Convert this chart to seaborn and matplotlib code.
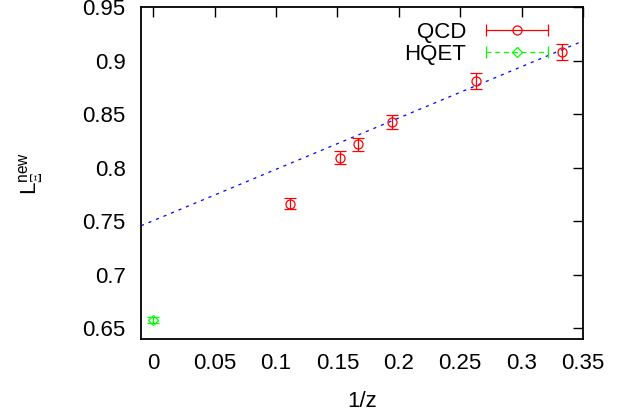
import matplotlib
matplotlib.use('Agg')
import matplotlib.pyplot as plt
import seaborn as sns
from matplotlib.lines import Line2D
from matplotlib.legend_handler import HandlerLine2D
from matplotlib.ticker import FixedLocator, FuncFormatter

# dados
qcd_x = [0.1111, 0.1518, 0.1667, 0.1944, 0.2632, 0.3333]
qcd_y = [0.7665, 0.8093, 0.8217, 0.8422, 0.8808, 0.9083]
qcd_err = [0.0055, 0.0058, 0.0060, 0.0065, 0.0072, 0.0075]

hqet_x = [0.0]
hqet_y = [0.6575]
hqet_err = [0.0030]

fit_x = [-0.01, 0.35]
fit_y = [0.7457, 0.9183]

xticks = [0, 0.05, 0.1, 0.15, 0.2, 0.25, 0.3, 0.35]
yticks = [0.65, 0.7, 0.75, 0.8, 0.85, 0.9, 0.95]

sns.set_style('white')
plt.rcParams['font.family'] = ['Liberation Sans', 'DejaVu Sans']
plt.rcParams['text.color'] = 'black'
plt.rcParams['axes.labelcolor'] = 'black'
plt.rcParams['mathtext.fontset'] = 'custom'
plt.rcParams['mathtext.rm'] = 'Liberation Sans'
plt.rcParams['mathtext.it'] = 'Liberation Sans'
plt.rcParams['mathtext.cal'] = 'Liberation Serif'

fig = plt.figure(figsize=(6.22, 4.19), dpi=100)
ax = fig.add_axes([141 / 622, 1 - 339 / 419, 442 / 622, 332 / 419])

# reta de ajuste
sns.lineplot(x=fit_x, y=fit_y, ax=ax, color='#0000ff', linewidth=0.9,
             linestyle=(0, (2.5, 4)), legend=False)

ax.errorbar(qcd_x, qcd_y, yerr=qcd_err, fmt='o', mfc='none', mec='#ff0000',
            ecolor='#ff0000', ms=6.5, mew=0.9, elinewidth=0.9, capsize=4,
            capthick=0.9, zorder=3)
ax.errorbar(hqet_x, hqet_y, yerr=hqet_err, fmt='D', mfc='none', mec='#00ff00',
            ecolor='#00ff00', ms=5, mew=0.9, elinewidth=0.9, capsize=4,
            capthick=0.9, zorder=3)

ax.set_xlim(-0.01, 0.35)
ax.set_ylim(0.64, 0.95)
ax.xaxis.set_major_locator(FixedLocator(xticks))
ax.yaxis.set_major_locator(FixedLocator(yticks))
fmt = FuncFormatter(lambda v, p: '%g' % v)
ax.xaxis.set_major_formatter(fmt)
ax.yaxis.set_major_formatter(fmt)
ax.tick_params(direction='in', length=7, width=1.0, top=True, right=True,
               labelsize=16, colors='black')
ax.tick_params(axis='y', pad=11)
ax.tick_params(axis='x', pad=10)
for s in ax.spines.values():
    s.set_color('black')
    s.set_linewidth(1.3)

ax.set_xlabel('1/z', fontsize=16, labelpad=12)
ax.set_ylabel('L$_{\\mathcal{\u039e}}^{\\rm new}$', fontsize=16, labelpad=27)

# legenda estilo gnuplot (texto a esquerda, amostra a direita)
qcd_bar = Line2D([], [], color='#ff0000', lw=0.9, marker='|', ms=9, mew=0.9)
qcd_mk = Line2D([], [], color='#ff0000', lw=0, marker='o', mfc='none', ms=6.5, mew=0.9)
hq_bar = Line2D([], [], color='#00ff00', lw=0.9, ls=(0, (4, 3)), marker='|', ms=9, mew=0.9)
hq_mk = Line2D([], [], color='#00ff00', lw=0, marker='D', mfc='none', ms=5, mew=0.9)
hmap = {qcd_bar: HandlerLine2D(numpoints=2), hq_bar: HandlerLine2D(numpoints=2),
        qcd_mk: HandlerLine2D(numpoints=1), hq_mk: HandlerLine2D(numpoints=1)}
ax.legend([(qcd_bar, qcd_mk), (hq_bar, hq_mk)], ['QCD', 'HQET'], handler_map=hmap,
          loc='upper right', bbox_to_anchor=((555 - 141) / 442, (339 - 22) / 332),
          frameon=False, markerfirst=False, fontsize=16, handlelength=3.4,
          handletextpad=0.6, labelspacing=0.05, borderpad=0, borderaxespad=0)

plt.savefig('out.png', dpi=100)
